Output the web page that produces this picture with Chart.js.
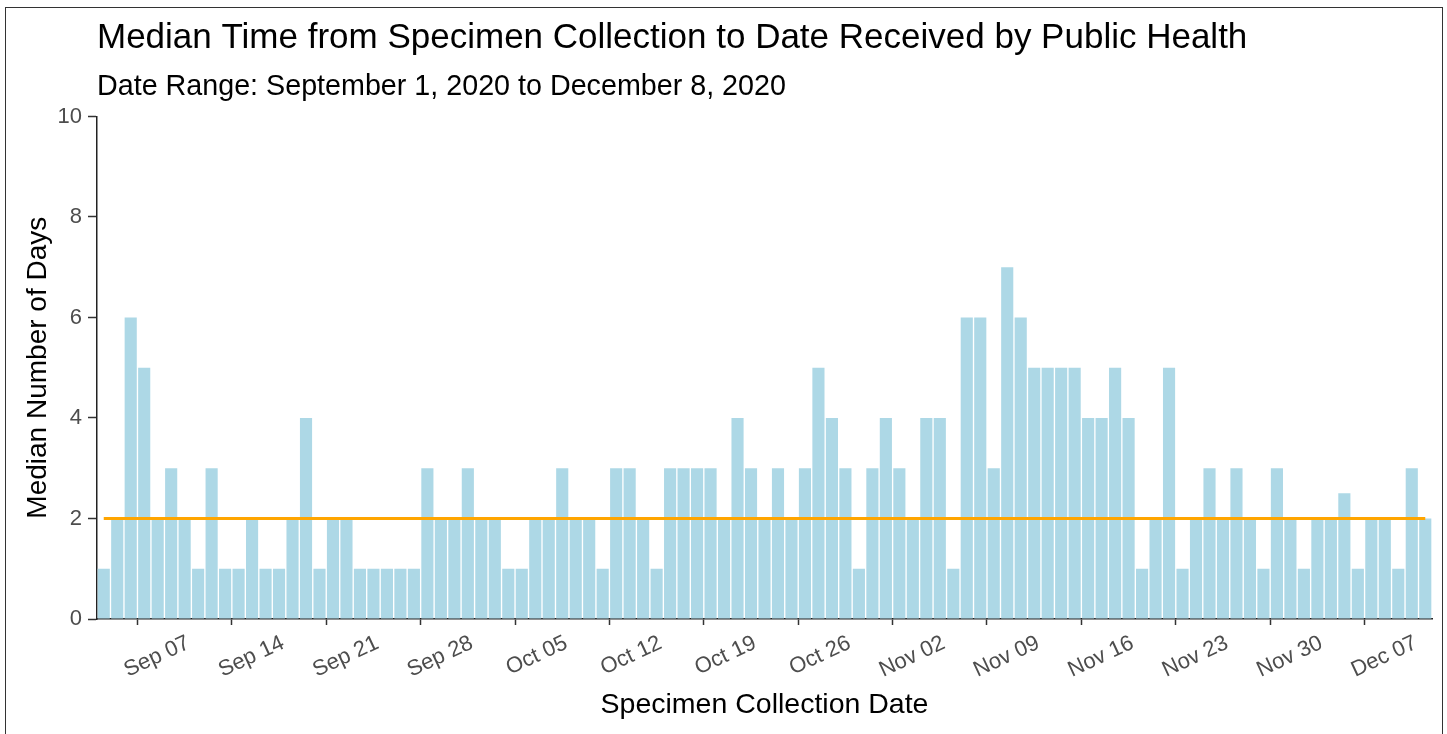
<!DOCTYPE html>
<html>
<head>
<meta charset="utf-8">
<script src="https://cdn.jsdelivr.net/npm/chart.js@4.4.1/dist/chart.umd.min.js"></script>
<style>
  html, body { margin: 0; padding: 0; background: #fff; }
  #wrap { position: relative; width: 1447px; height: 734px; overflow: hidden; }
  #frame { position: absolute; left: 5px; top: 7px; width: 1438px; height: 740px; border: 1.5px solid #333; box-sizing: border-box; pointer-events: none; }
</style>
</head>
<body>
<div id="wrap">
  <canvas id="chart" width="1447" height="734"></canvas>
  <div id="frame"></div>
</div>
<script>
"use strict";

// median days, by collection date (Sep 1 .. Dec 8, 2020)
var sepValues = [1, 2, 6, 5, 2, 3, 2, 1, 3, 1, 1, 2, 1, 1, 2, 4, 1, 2, 2, 1, 1, 1, 1, 1, 3, 2, 2, 3, 2, 2];
var octValues = [1, 1, 2, 2, 3, 2, 2, 1, 3, 3, 2, 1, 3, 3, 3, 3, 2, 4, 3, 2, 3, 2, 3, 5, 4, 3, 1, 3, 4, 3, 2];
var novValues = [4, 4, 1, 6, 6, 3, 7, 6, 5, 5, 5, 5, 4, 4, 5, 4, 1, 2, 5, 1, 2, 3, 2, 3, 2, 1, 3, 2, 1, 2];
var decValues = [2, 2.5, 1, 2, 2, 1, 3, 2];

var months = ["Sep", "Oct", "Nov", "Dec"];
var monthValues = [sepValues, octValues, novValues, decValues];

var overallMedian = 2;
var tickLabels = ["Sep 07", "Sep 14", "Sep 21", "Sep 28", "Oct 05", "Oct 12", "Oct 19", "Oct 26",
  "Nov 02", "Nov 09", "Nov 16", "Nov 23", "Nov 30", "Dec 07"];
var yTicks = [0, 2, 4, 6, 8, 10];

var FONT = "'Liberation Sans', Arial, sans-serif";

var labels = [];
var values = [];
months.forEach(function (m, i) {
  monthValues[i].forEach(function (v, d) {
    labels.push(m + " " + (d < 9 ? "0" : "") + (d + 1));
    values.push(v);
  });
});

new Chart(document.getElementById("chart"), {
  type: "bar",
  data: {
    labels: labels,
    datasets: [
      {
        type: "line",
        data: labels.map(function () { return overallMedian; }),
        borderColor: "#FFA500",
        borderWidth: 3,
        pointRadius: 0,
        fill: false,
        order: 0,
      },
      {
        data: values,
        backgroundColor: "#ADD8E6",
        borderWidth: 0,
        categoryPercentage: 1,
        barPercentage: 0.9,
        order: 1,
      },
    ],
  },
  options: {
    responsive: false,
    animation: false,
    events: [],
    layout: { padding: { top: 12, left: 10, right: 15, bottom: 0 } },
    scales: {
      x: {
        offset: true,
        afterFit: function (s) { s.height = 115; },
        grid: { display: true, drawOnChartArea: false, color: "#333", tickLength: 6, tickWidth: 1.5 },
        border: { display: true, color: "#222", width: 1.5 },
        ticks: {
          autoSkip: false,
          minRotation: 25,
          maxRotation: 25,
          padding: 5,
          labelOffset: 4,
          color: "#4D4D4D",
          font: { family: FONT, size: 22 },
          callback: function (v, i) {
            var l = labels[i];
            return tickLabels.indexOf(l) >= 0 ? l : null;
          },
        },
        title: {
          display: true,
          text: "Specimen Collection Date",
          color: "#000",
          font: { family: FONT, size: 28.5 },
          padding: { top: 0, bottom: 12 },
        },
      },
      y: {
        min: 0,
        max: 10,
        afterFit: function (s) { s.width = 87; },
        afterBuildTicks: function (s) { s.ticks = yTicks.map(function (v) { return { value: v }; }); },
        grid: { display: true, drawOnChartArea: false, color: "#333", tickLength: 9, tickWidth: 1.5 },
        border: { display: true, color: "#222", width: 1.5 },
        ticks: { color: "#4D4D4D", padding: 6, font: { family: FONT, size: 22 } },
        title: {
          display: true,
          text: "Median Number of Days",
          color: "#000",
          font: { family: FONT, size: 28 },
          padding: { top: 11, bottom: 0 },
        },
      },
    },
    plugins: {
      legend: { display: false },
      tooltip: { enabled: false },
      title: {
        display: true,
        fullSize: false,
        align: "start",
        text: "Median Time from Specimen Collection to Date Received by Public Health",
        color: "#000",
        font: { family: FONT, size: 35, weight: "normal" },
        padding: { top: 5, bottom: 4 },
      },
      subtitle: {
        display: true,
        fullSize: false,
        align: "start",
        text: "Date Range: September 1, 2020 to December 8, 2020",
        color: "#000",
        font: { family: FONT, size: 28.7 },
        padding: { top: 7, bottom: 12 },
      },
    },
  },
});
</script>
</body>
</html>
